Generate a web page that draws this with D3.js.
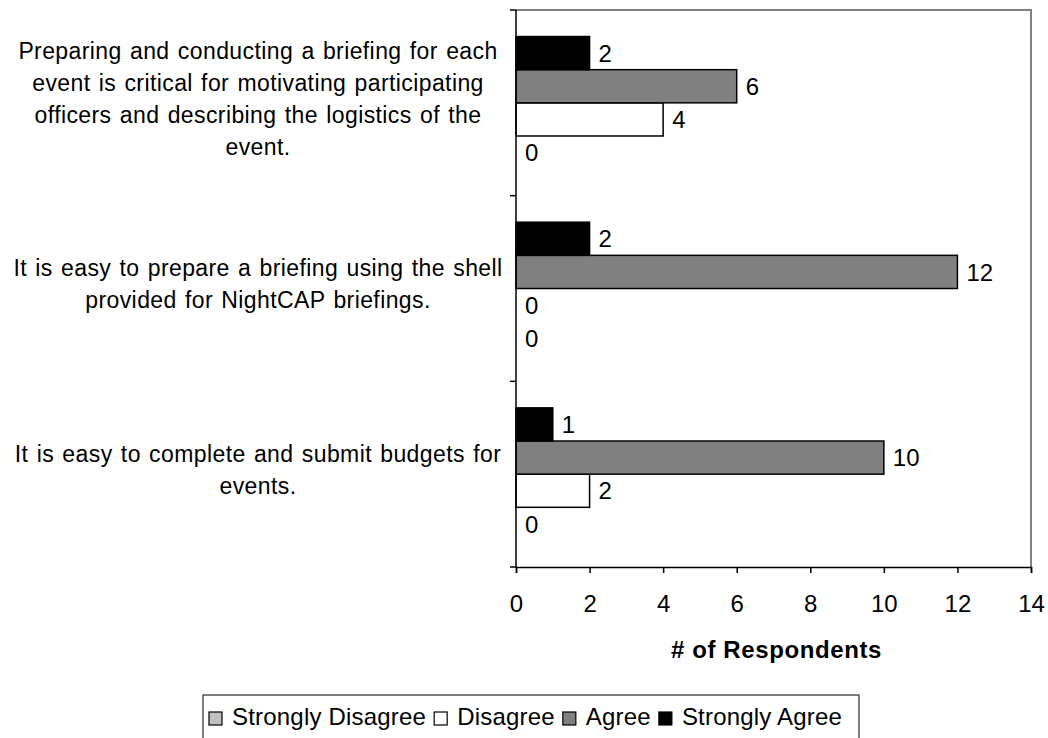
<!DOCTYPE html>
<html>
<head>
<meta charset="utf-8">
<script src="https://cdn.jsdelivr.net/npm/d3@7"></script>
<style>
  html, body { margin: 0; padding: 0; background: #fff; }
  svg { display: block; font-family: "Liberation Sans", Arial, sans-serif; }
</style>
</head>
<body>
<svg id="chart" width="1048" height="738"></svg>
<script>
// ---- data ----
const categories = [
  "Preparing and conducting a briefing for each event is critical for motivating participating officers and describing the logistics of the event.",
  "It is easy to prepare a briefing using the shell provided for NightCAP briefings.",
  "It is easy to complete and submit budgets for events."
];
const categoryLines = [
  ["Preparing and conducting a briefing for each", "event is critical for motivating participating", "officers and describing the logistics of the", "event."],
  ["It is easy to prepare a briefing using the shell", "provided for NightCAP briefings."],
  ["It is easy to complete and submit budgets for", "events."]
];
const seriesNames = ["Strongly Disagree", "Disagree", "Agree", "Strongly Agree"];
const stronglyDisagree = [0, 0, 0];
const disagree = [4, 0, 2];
const agree = [6, 12, 10];
const stronglyAgree = [2, 2, 1];
const xTicks = [0, 2, 4, 6, 8, 10, 12, 14];
const seriesColors = ["#c0c0c0", "#ffffff", "#808080", "#000000"];

const seriesValues = [stronglyDisagree, disagree, agree, stronglyAgree];

// ---- layout ----
const svg = d3.select("#chart");
const plot = { left: 516, right: 1031, top: 10, bottom: 567 };
const FONT = 23;

const x = d3.scaleLinear().domain([0, 14]).range([plot.left, plot.right]);
const y0 = d3.scaleBand().domain(d3.range(categories.length))
  .range([plot.top, plot.bottom]).paddingInner(0).paddingOuter(0);
// order within a band, top to bottom: Strongly Agree, Agree, Disagree, Strongly Disagree
const drawOrder = [3, 2, 1, 0];
const y1 = d3.scaleBand().domain(drawOrder).range([0, y0.bandwidth()])
  .paddingInner(0).paddingOuter(0.8);

// plot border (top and right, gray)
svg.append("path")
  .attr("d", `M${plot.left},${plot.top}H${plot.right}V${plot.bottom}`)
  .attr("fill", "none").attr("stroke", "#808080").attr("stroke-width", 2);

// bars
const groups = svg.append("g").selectAll("g")
  .data(categories.map((c, i) => i))
  .join("g")
  .attr("transform", i => `translate(0,${y0(i)})`);

groups.selectAll("rect")
  .data(i => seriesValues.map((vals, s) => ({ s, v: vals[i] })))
  .join("rect")
  .attr("x", x(0))
  .attr("y", d => y1(d.s))
  .attr("width", d => x(d.v) - x(0))
  .attr("height", y1.bandwidth())
  .attr("fill", d => seriesColors[d.s])
  .attr("stroke", d => d.v > 0 ? "#000" : "none")
  .attr("stroke-width", 1.5);

groups.selectAll("text.val")
  .data(i => seriesValues.map((vals, s) => ({ s, v: vals[i] })))
  .join("text")
  .attr("class", "val")
  .attr("x", d => x(d.v) + 9)
  .attr("y", d => y1(d.s) + y1.bandwidth() / 2)
  .attr("dy", "0.36em")
  .attr("font-size", 24)
  .attr("fill", "#000")
  .text(d => d.v);

// y axis
svg.append("line")
  .attr("x1", plot.left).attr("x2", plot.left)
  .attr("y1", plot.top).attr("y2", plot.bottom)
  .attr("stroke", "#000").attr("stroke-width", 1.5);
const yTickPos = d3.range(categories.length + 1).map(i => i < categories.length ? y0(i) : plot.bottom);
svg.append("g").selectAll("line").data(yTickPos).join("line")
  .attr("x1", plot.left - 6).attr("x2", plot.left)
  .attr("y1", d => d).attr("y2", d => d)
  .attr("stroke", "#000").attr("stroke-width", 1.5);

// x axis
const xAxis = d3.axisBottom(x).tickValues(xTicks).tickSize(6).tickPadding(22);
const gx = svg.append("g").attr("transform", `translate(0,${plot.bottom})`).call(xAxis);
gx.select(".domain").attr("stroke", "#000").attr("stroke-width", 1.5);
gx.selectAll(".tick line").attr("stroke", "#000").attr("stroke-width", 1.5);
gx.selectAll(".tick text").attr("font-size", 24).attr("fill", "#000")
  .attr("font-family", "'Liberation Sans', Arial, sans-serif");

svg.append("text")
  .attr("x", (x(7) + 3)).attr("y", 658)
  .attr("text-anchor", "middle")
  .attr("font-size", 24).attr("font-weight", "bold")
  .attr("letter-spacing", 0.6)
  .text("# of Respondents");

// category labels
const lineH = 32;
categoryLines.forEach((lines, i) => {
  const cy = y0(i) + y0.bandwidth() / 2;
  const startY = cy - (lines.length - 1) * lineH / 2;
  const t = svg.append("text")
    .attr("text-anchor", "middle")
    .attr("font-size", FONT)
    .attr("letter-spacing", 0.4)
    .attr("word-spacing", 1.5)
    .attr("fill", "#000");
  lines.forEach((ln, k) => {
    t.append("tspan")
      .attr("x", 258)
      .attr("y", startY + k * lineH - 4.5)
      .attr("dy", "0.36em")
      .text(ln);
  });
});

// legend
const legend = svg.append("g");
legend.append("rect")
  .attr("x", 203).attr("y", 695).attr("width", 656).attr("height", 60)
  .attr("fill", "#fff").attr("stroke", "#000").attr("stroke-width", 1);
let lx = 209;
seriesNames.forEach((name, s) => {
  legend.append("rect")
    .attr("x", lx).attr("y", 712).attr("width", 13).attr("height", 13)
    .attr("fill", seriesColors[s]).attr("stroke", "#000").attr("stroke-width", 1.2);
  const txt = legend.append("text")
    .attr("x", lx + 23).attr("y", 725)
    .attr("font-size", 24).attr("letter-spacing", 0.2).attr("fill", "#000")
    .text(name);
  lx += 23 + txt.node().getComputedTextLength() + 8;
});
</script>
</body>
</html>
